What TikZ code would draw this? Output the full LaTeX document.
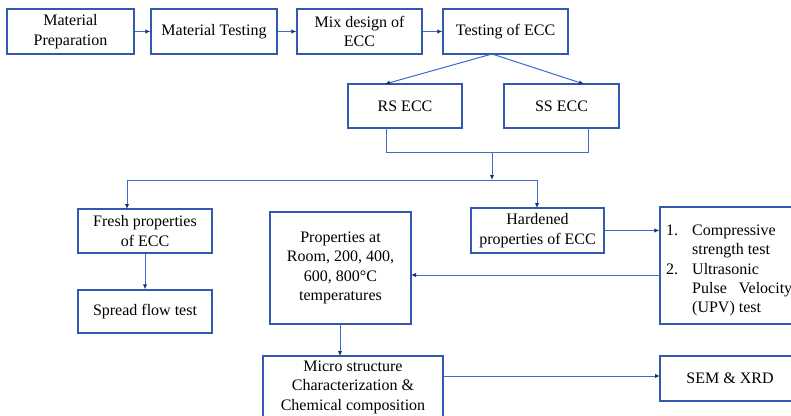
\documentclass[tikz,border=0pt]{standalone}
\usepackage{fontspec}
\setmainfont{Liberation Serif}
\usetikzlibrary{arrows.meta}
\definecolor{boxblue}{RGB}{50,88,175}
\definecolor{lineblue}{RGB}{58,108,208}
\definecolor{tipblue}{RGB}{28,50,120}
\tikzset{
  boxnode/.style={draw=boxblue, line width=1.4pt, fill=white, inner sep=0pt, align=center,
    font=\rmfamily\fontsize{16}{19.5}\selectfont},
  conn/.style={draw=lineblue, line width=1pt},
  arr/.style={conn, -{Latex[length=5pt,width=4.5pt,color=tipblue]}},
  txt/.style={inner sep=0pt, anchor=base west, font=\rmfamily\fontsize{16}{19.5}\selectfont},
}
\newcommand{\bx}[6]{% name, x1, y1, x2, y2, text
  \node[boxnode, minimum width={(#4-#2)*1pt}, minimum height={(#5-#3)*1pt}] (#1) at ({(#2+#4)/2},{(#3+#5)/2}) {#6};}
\begin{document}
\begin{tikzpicture}[x=1pt,y=-1pt]
\useasboundingbox (0,0) rectangle (791,415);
\clip (0,0) rectangle (791,415);
\fill[white] (0,0) rectangle (791,415);
% top row
\bx{prep}{7}{9}{134}{54}{Material\\Preparation}
\bx{mtest}{151}{9}{277}{54}{Material Testing}
\bx{mix}{297}{9}{422}{54}{Mix design of\\ECC}
\bx{tecc}{443}{9}{568}{54}{Testing of ECC}
% second row
\bx{rs}{348}{84}{462}{128}{RS ECC}
\bx{ss}{504}{84}{619}{128}{SS ECC}
% third row
\bx{fresh}{78}{209}{212}{253}{Fresh properties\\of ECC}
\bx{spread}{78}{290}{212}{333}{Spread flow test}
\bx{props}{270}{212}{411}{324}{Properties at\\Room, 200, 400,\\600, 800\textdegree C\\temperatures}
\bx{hard}{471}{208}{604}{253}{Hardened\\properties of ECC}
\bx{list}{660}{207}{810}{324}{}
\bx{micro}{263}{356}{443}{418}{Micro structure\\Characterization \&\\Chemical composition}
\bx{sem}{660}{356}{800}{401}{SEM \& XRD}
% list text
\node[txt] (n1) at (666,235) {1.};
\node[txt] (t1) at (692,235) {Compressive};
\node[txt] (t2) at (692,254) {strength test};
\node[txt] (n2) at (666,274) {2.};
\node[txt] (t3) at (692,274) {Ultrasonic};
\node[txt] (t4) at (692,293) {\makebox[100pt][s]{Pulse\hfill Velocity}};
\node[txt] (t5) at (692,312) {(UPV) test};
% connectors top row
\draw[arr] (prep.east) -- (mtest.west);
\draw[arr] (mtest.east) -- (mix.west);
\draw[arr] (mix.east) -- (tecc.west);
\coordinate (tb) at (492,54);
\draw[arr] (tb) -- (385,84);
\draw[arr] (tb) -- (584,84);
% merge
\coordinate (m1) at (386,152);
\coordinate (m2) at (588,152);
\coordinate (mc) at (492,152);
\coordinate (sp) at (492,180);
\coordinate (spl) at (127,180);
\coordinate (spr) at (537,180);
\draw[conn] (386,128) -- (m1) -- (m2) -- (588,128);
\draw[arr] (mc) -- (sp);
\draw[conn] (spl) -- (spr);
\draw[arr] (spl) -- (127,209);
\draw[arr] (spr) -- (537,208);
\draw[arr] (fresh.south) -- (spread.north);
\draw[arr] (hard.east) -- (hard.east -| list.west);
\draw[arr] (660,275) -- (411,275);
\draw[arr] (340,324) -- (340,356);
\draw[arr] (443,376) -- (660,376);
\end{tikzpicture}
\end{document}
